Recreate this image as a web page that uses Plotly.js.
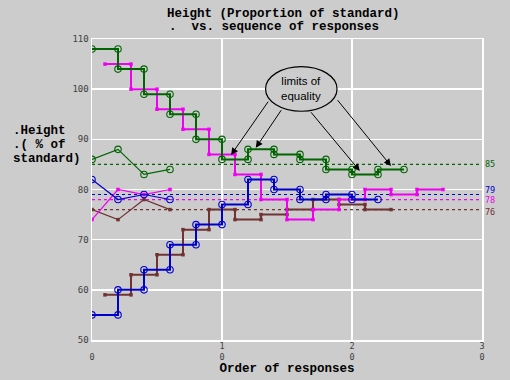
<!DOCTYPE html>
<html>
<head>
<meta charset="utf-8">
<script src="https://cdn.plot.ly/plotly-3.0.1.min.js"></script>
<style>html,body{margin:0;padding:0;background:#cccccc;}#chart{width:510px;height:380px;}</style>
</head>
<body>
<div id="chart"></div>
<script>
// ---- data ----
const greenStepX = [0,2,2,4,4,6,6,8,8,10,10,12,12,14,14,16,16,18,18,20,20,22,22,24];
const greenStepY = [108,108,104,104,99,99,95,95,90,90,86,86,88,88,87,87,86,86,84,84,83,83,84,84];
const magentaStepX = [1,3,3,5,5,7,7,9,9,11,11,13,13,15,15,17,17,19,19,21,21,23,23,25,25,27];
const magentaStepY = [105,105,100,100,96,96,92,92,87,87,83,83,78,78,74,74,76,76,78,78,80,80,79,79,80,80];
const blueStepX = [0,2,2,4,4,6,6,8,8,10,10,12,12,14,14,16,16,18,18,20,20,22];
const blueStepY = [55,55,60,60,64,64,69,69,73,73,77,77,82,82,80,80,78,78,79,79,78,78];
const brownStepX = [1,3,3,5,5,7,7,9,9,11,11,13,13,15,15,17,17,19,19,21,21,23];
const brownStepY = [59,59,63,63,67,67,72,72,76,76,74,74,75,75,76,76,78,78,77,77,76,76];

const zigX = [0,2,4,6];
const greenZigY = [86,88,83,84];
const magentaZigY = [74,80,79,80];
const blueZigY = [82,78,79,78];
const brownZigY = [76,74,78,76];

const refLevels = [85,79,78,76];
const refLabels = ['85','79','78','76'];
const xRange = [0,30];
const yRange = [50,110];
const xTickVals = [0,10,20,30];
const xTickText = ['&nbsp;<br>0','1<br>0','2<br>0','3<br>0'];
const yTickVals = [50,60,70,80,90,100,110];
const yTickText = ['50','60','70','80','90','100','110'];

const titleLine1 = 'Height (Proportion of standard)';
const titleLine2 = '.  vs. sequence of responses';
const yTitleLines = ['.Height','.( % of','standard)'];
const xTitle = 'Order of responses';
const calloutText = 'limits of<br>equality';
// arrow heads (x,y) and tails (ax,ay) in data units
const arrowHeadX = [10.7,12.6,20.6,23.0];
const arrowHeadY = [86.9,88.3,83.7,84.7];
const arrowTailX = [13.63,14.63,16.75,18.8];
const arrowTailY = [97.8,96.1,95.7,98.1];

// ---- styles ----
const GREEN = '#006400', MAGENTA = '#f000f0', BLUE = '#0000cc', BROWN = '#703232';
const refColors = [GREEN, BLUE, MAGENTA, BROWN];
const MONO = 'Liberation Mono, Courier New, monospace';
const TICKF = 'DejaVu Sans Mono, monospace';

function series(x, y, color, sym, w) {
  const circ = sym === 'circle-open';
  return {x: x, y: y, type: 'scatter', mode: 'lines+markers', hoverinfo: 'skip',
    line: {color: color, width: w},
    marker: {symbol: sym, size: circ ? 6.5 : 3.5, color: color, line: {color: color, width: circ ? 1.1 : 0}}};
}

const traces = [];
refLevels.forEach((v, i) => {
  traces.push({x: xRange, y: [v, v], type: 'scatter', mode: 'lines', hoverinfo: 'skip',
    line: {color: refColors[i], width: 1.2, dash: 'dot'}});
});
traces.push(series(zigX, greenZigY, GREEN, 'circle-open', 1.2));
traces.push(series(zigX, brownZigY, BROWN, 'square', 1.2));
traces.push(series(zigX, magentaZigY, MAGENTA, 'square', 1.2));
traces.push(series(zigX, blueZigY, BLUE, 'circle-open', 1.2));
traces.push(series(brownStepX, brownStepY, BROWN, 'square', 2));
traces.push(series(magentaStepX, magentaStepY, MAGENTA, 'square', 2));
traces.push(series(blueStepX, blueStepY, BLUE, 'circle-open', 2));
traces.push(series(greenStepX, greenStepY, GREEN, 'circle-open', 2));

const annotations = [];
annotations.push({xref: 'paper', yref: 'paper', x: 0.193, y: (339.5 - 27) / 300.5, xanchor: 'left', yanchor: 'middle',
  text: '<b>' + titleLine2 + '</b>', showarrow: false, font: {family: MONO, size: 12.5, color: '#000'}});
const yTitlePx = [131, 145, 159];
yTitleLines.forEach((t, i) => {
  annotations.push({xref: 'paper', yref: 'paper', x: -0.207, y: (339.5 - yTitlePx[i]) / 300.5, xanchor: 'left', yanchor: 'middle',
    text: '<b>' + t + '</b>', showarrow: false, font: {family: MONO, size: 12.5, color: '#000'}});
});
const refShift = [0, 5, 0, -2];
refLevels.forEach((v, i) => {
  annotations.push({xref: 'paper', yref: 'y', x: 1.004, y: v, yshift: refShift[i], xanchor: 'left', yanchor: 'middle',
    text: refLabels[i], showarrow: false, borderpad: 0, font: {family: TICKF, size: 8.5, color: refColors[i]}});
});
annotations.push({xref: 'x', yref: 'y', x: 16.1, y: 100.05, text: calloutText, showarrow: false,
  font: {family: 'Liberation Sans, Arial, sans-serif', size: 11.5, color: '#000'}});
arrowHeadX.forEach((hx, i) => {
  annotations.push({xref: 'x', yref: 'y', x: hx, y: arrowHeadY[i], axref: 'x', ayref: 'y',
    ax: arrowTailX[i], ay: arrowTailY[i], text: '', showarrow: true, arrowhead: 2, arrowsize: 1.4,
    arrowwidth: 1, arrowcolor: '#000', standoff: 0});
});

const layout = {
  width: 510, height: 380,
  paper_bgcolor: '#cccccc', plot_bgcolor: '#cccccc',
  margin: {l: 92, r: 28, t: 39, b: 40, pad: 0},
  showlegend: false,
  title: {text: '<b>' + titleLine1 + '</b>', font: {family: MONO, size: 12.5, color: '#000'},
    xref: 'container', yref: 'container', x: 167/510, xanchor: 'left', y: 1 - 13/380, yanchor: 'middle'},
  xaxis: {range: xRange, tickvals: xTickVals, ticktext: xTickText, showgrid: true, gridcolor: '#ffffff', gridwidth: 1.5,
    zeroline: false, showline: true, linecolor: '#ffffff', linewidth: 1.5, mirror: true, ticks: '',
    ticklabelstandoff: -3,
    tickfont: {family: TICKF, size: 8.5, color: '#404040'},
    title: {text: '<b>' + xTitle + '</b>', font: {family: MONO, size: 12.5, color: '#000'}, standoff: 0}},
  yaxis: {range: yRange, tickvals: yTickVals, ticktext: yTickText, showgrid: true, gridcolor: '#ffffff', gridwidth: 1.5,
    zeroline: false, showline: true, linecolor: '#ffffff', linewidth: 1.5, mirror: true, ticks: '',
    tickfont: {family: TICKF, size: 9, color: '#404040'}},
  shapes: [{type: 'circle', xref: 'x', yref: 'y', x0: 13.35, x1: 18.85, y0: 95.6, y1: 104.5,
    fillcolor: '#cccccc', line: {color: '#000', width: 1.2}, layer: 'above'}],
  annotations: annotations
};

Plotly.newPlot('chart', traces, layout, {displayModeBar: false, staticPlot: true});
</script>
</body>
</html>
